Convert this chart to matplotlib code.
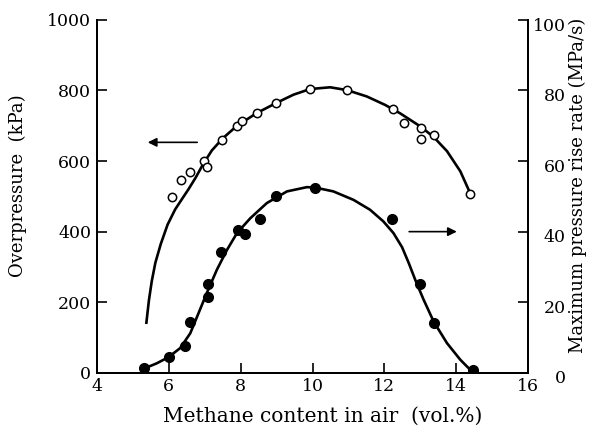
"""Overpressure and maximum pressure rise rate of methane-air explosions."""

import matplotlib.pyplot as plt
from matplotlib.transforms import ScaledTranslation

plt.rcParams['font.family'] = ['DejaVu Serif']

# overpressure measurements (open circles, left axis, kPa)
op_x = [6.08, 6.35, 6.58, 6.98, 7.06, 7.49, 7.90, 8.05, 8.46, 8.99,
        9.93, 10.96, 12.24, 12.54, 13.03, 13.03, 13.37, 14.39]
op_y = [498, 547, 569, 601, 584, 660, 698, 714, 736, 764,
        805, 801, 748, 709, 693, 662, 673, 507]

# fitted overpressure curve
op_curve_x = [5.38, 5.45, 5.53, 5.63, 5.78, 5.97, 6.18, 6.4, 6.55, 6.75,
              6.95, 7.2, 7.5, 7.9, 8.45, 9.0, 9.47, 9.93, 10.49, 10.96,
              11.51, 12.02, 12.44, 13.0, 13.37, 13.74, 14.11, 14.37]
op_curve_y = [142, 205, 260, 312, 365, 420, 463, 497, 520, 553,
              590, 630, 664, 700, 736, 765, 788, 804, 809, 801,
              783, 759, 735, 698, 668, 628, 571, 512]

# maximum pressure rise rate (filled circles, right axis, MPa/s)
rr_x = [5.32, 6.01, 6.46, 6.59, 7.09, 7.09, 7.45, 7.92, 8.13, 8.55,
        8.98, 10.08, 12.20, 13.00, 13.39, 14.46]
rr_y = [1.3, 4.4, 7.7, 14.4, 21.6, 25.3, 34.3, 40.6, 39.2, 43.6,
        50.2, 52.4, 43.7, 25.2, 14.0, 0.8]

rr_curve_x = [5.34, 5.67, 5.99, 6.32, 6.60, 6.83, 7.06, 7.34, 7.62, 7.90,
              8.27, 8.73, 9.29, 9.84, 10.07, 10.58, 11.14, 11.60, 11.97, 12.25,
              12.49, 12.68, 12.87, 13.09, 13.37, 13.74, 14.11, 14.43]
rr_curve_y = [1.3, 2.7, 4.4, 7.0, 11.2, 16.9, 22.6, 29.2, 34.8, 39.6,
              43.8, 48.1, 51.4, 52.6, 52.5, 51.4, 49.0, 46.2, 42.9, 39.6,
              35.6, 31.0, 26.0, 20.7, 14.5, 8.4, 3.7, 0.4]

x_ticks = [4, 6, 8, 10, 12, 14, 16]
left_ticks = [0, 200, 400, 600, 800, 1000]
right_ticks = [0, 20, 40, 60, 80, 100]

fig = plt.figure(figsize=(6.01, 4.32), dpi=100)
ax = fig.add_axes([0.161, 0.137, 0.718, 0.817])
ax2 = ax.twinx()

# overpressure
ax.plot(op_curve_x, op_curve_y, color='k', lw=1.9, solid_joinstyle='round')
ax.plot(op_x, op_y, 'o', ms=6, mfc='white', mec='k', mew=1.1)

# pressure rise rate
ax2.plot(rr_curve_x, rr_curve_y, color='k', lw=1.9, solid_joinstyle='round')
ax2.plot(rr_x, rr_y, 'o', ms=7, color='k')

# arrows pointing to the matching axes
ax.annotate('', xy=(5.34, 653), xytext=(6.87, 653),
            arrowprops=dict(arrowstyle='-|>', color='k', lw=1.2, mutation_scale=13))
ax.annotate('', xy=(14.09, 400), xytext=(12.61, 400),
            arrowprops=dict(arrowstyle='-|>', color='k', lw=1.2, mutation_scale=13))

ax.set_xlim(4, 16)
ax.set_ylim(0, 1000)
ax2.set_ylim(0, 100)
ax.set_xticks(x_ticks)
ax.set_yticks(left_ticks)
ax2.set_yticks(right_ticks)

for a in (ax, ax2):
    a.spines['top'].set_visible(False)
    for s in ('left', 'right', 'bottom'):
        a.spines[s].set_linewidth(1.4)

ax.tick_params(direction='in', length=7, width=1.2, labelsize=12.5, pad=4)
ax2.tick_params(direction='in', length=7, width=1.2, labelsize=12.5, pad=27)
shift = ScaledTranslation(0, -3 / 72, fig.dpi_scale_trans)
for lab in ax2.get_yticklabels():
    lab.set_horizontalalignment('right')
    lab.set_transform(lab.get_transform() + shift)

ax.set_xlabel('Methane content in air  (vol.%)', fontsize=14.5)
ax.set_ylabel('Overpressure  (kPa)', fontsize=13)
ax2.set_ylabel('Maximum pressure rise rate (MPa/s)', fontsize=13)
ax.xaxis.set_label_coords(0.523, -0.097)
ax.yaxis.set_label_coords(-0.162, 0.53)
ax2.yaxis.set_label_coords(1.093, 0.53)

plt.savefig('out.png', dpi=100)
